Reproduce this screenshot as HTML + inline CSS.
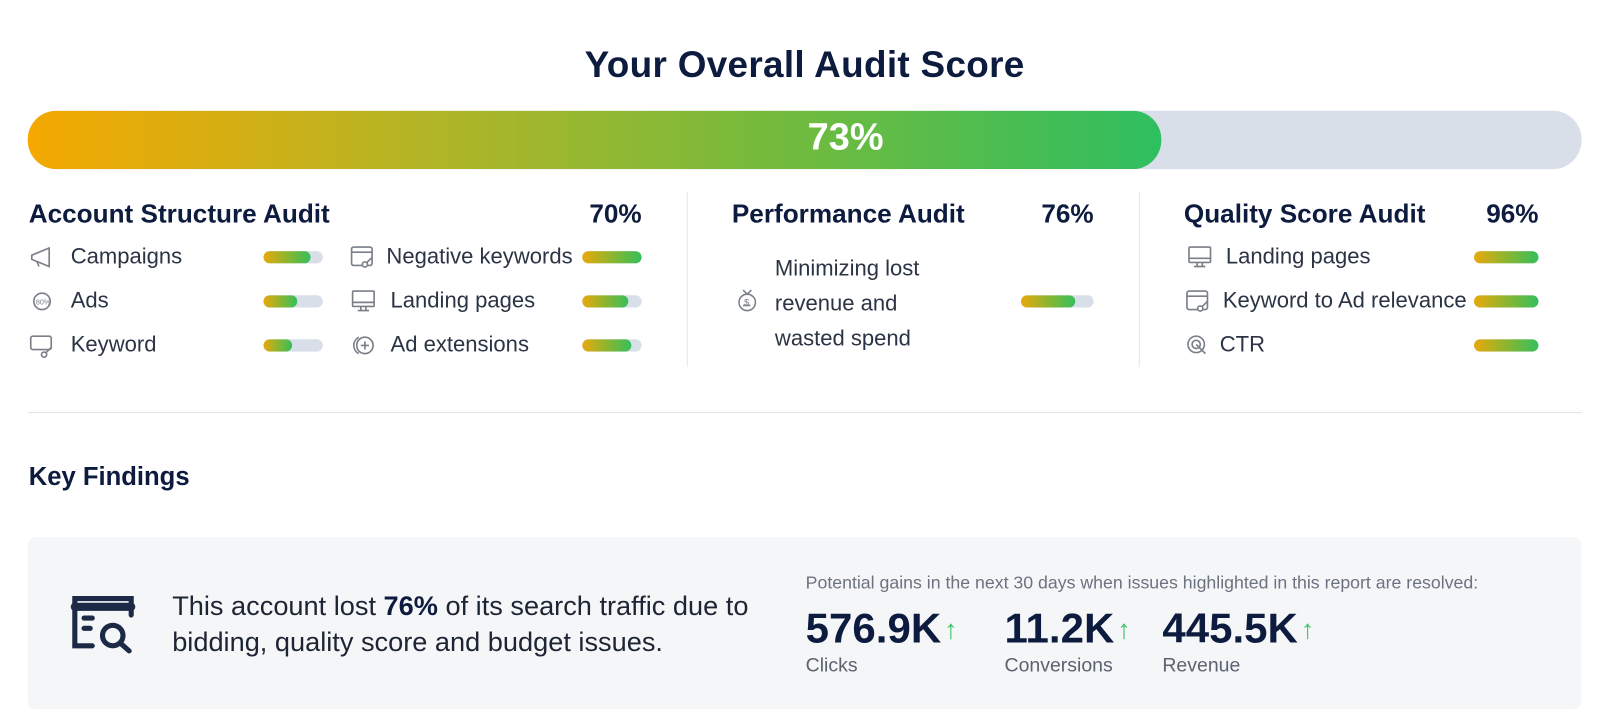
<!DOCTYPE html>
<html><head><meta charset="utf-8"><style>
*{margin:0;padding:0;box-sizing:border-box}
html,body{width:1604px;height:723px;overflow:hidden;background:#fff}
#w{position:absolute;left:0;top:0;width:1565px;height:706px;transform:scale(1.025);transform-origin:0 0;font-family:"Liberation Sans",sans-serif;color:#0d1b3e}
.a{position:absolute;white-space:nowrap}
.h{font-size:25.5px;font-weight:bold;color:#0d1b3e}
.r{text-align:right}
.it{font-size:21.5px;color:#2b3444}
.bar{position:absolute;height:12px;border-radius:6px;background:#d9dfe8;overflow:hidden}
.bar i{display:block;height:100%;border-radius:6px;background:linear-gradient(90deg,#e9a90c,#8cb52f,#35bf5c)}
.ic{position:absolute;color:#7a7f88}
.up{color:#3cc46a;font-size:26px;font-weight:bold;vertical-align:4px;margin-left:3px}
</style></head><body><div id="w">
<div class="a" style="left:0;width:1570px;text-align:center;top:42px;font-size:36px;font-weight:bold;letter-spacing:0.3px">Your Overall Audit Score</div>
<div class="a" style="left:27px;top:108px;width:1516px;height:57px;border-radius:28px;background:#d9dfe8;overflow:hidden">
<div style="width:1106px;height:57px;border-radius:28px;background:linear-gradient(90deg,#f5a800,#b3b526 35%,#6cbb40 70%,#2fbf60)"></div></div>
<div class="a" style="left:0;width:1650px;text-align:center;top:113px;font-size:37px;font-weight:bold;color:#fff">73%</div>

<div class="a h" style="left:28px;top:195px">Account Structure Audit</div>
<div class="a h r" style="left:526px;width:100px;top:195px">70%</div>
<div class="a h" style="left:714px;top:195px">Performance Audit</div>
<div class="a h r" style="left:967px;width:100px;top:195px">76%</div>
<div class="a h" style="left:1155px;top:195px">Quality Score Audit</div>
<div class="a h r" style="left:1401px;width:100px;top:195px">96%</div>

<svg class="ic" style="left:28px;top:240px" width="24" height="22" viewBox="0 0 24 22" fill="none" stroke="#7a7f88" stroke-width="1.6"><path d="M20 2 L3 9 L3 13 L20 20 Z M8 15 L10 20"/></svg>
<div class="a it" style="left:69px;top:238px">Campaigns</div>
<div class="bar" style="left:257px;top:245px;width:58px"><i style="width:46px"></i></div>
<svg class="ic" style="left:28px;top:283px" width="26" height="22" viewBox="0 0 26 22" fill="none" stroke="#7a7f88" stroke-width="1.6"><circle cx="13" cy="11" r="8"/><text x="7" y="14" font-size="7" fill="#7a7f88" stroke="none">80%</text></svg>
<div class="a it" style="left:69px;top:281px">Ads</div>
<div class="bar" style="left:257px;top:288px;width:58px"><i style="width:33px"></i></div>
<svg class="ic" style="left:28px;top:326px" width="26" height="24" viewBox="0 0 26 24" fill="none" stroke="#7a7f88" stroke-width="1.6"><rect x="2" y="2" width="20" height="13" rx="2"/><circle cx="15" cy="20" r="2.5"/><path d="M17 18 L22 13"/></svg>
<div class="a it" style="left:69px;top:324px">Keyword</div>
<div class="bar" style="left:257px;top:331px;width:58px"><i style="width:28px"></i></div>

<svg class="ic" style="left:341px;top:239px" width="26" height="24" viewBox="0 0 26 24" fill="none" stroke="#7a7f88" stroke-width="1.6"><rect x="2" y="2" width="20" height="18" rx="2"/><path d="M2 7 H22"/><circle cx="15" cy="19" r="2.5" fill="#fff"/><path d="M17 17 L22 12"/></svg>
<div class="a it" style="left:377px;top:238px">Negative keywords</div>
<div class="bar" style="left:568px;top:245px;width:58px"><i style="width:58px"></i></div>
<svg class="ic" style="left:342px;top:282px" width="26" height="24" viewBox="0 0 26 24" fill="none" stroke="#7a7f88" stroke-width="1.6"><rect x="2" y="2" width="21" height="15" rx="1"/><path d="M2 13 H23 M10 17 V21 M15 17 V21 M7 21 H18"/></svg>
<div class="a it" style="left:381px;top:281px">Landing pages</div>
<div class="bar" style="left:568px;top:288px;width:58px"><i style="width:45px"></i></div>
<svg class="ic" style="left:342px;top:325px" width="26" height="24" viewBox="0 0 26 24" fill="none" stroke="#7a7f88" stroke-width="1.6"><circle cx="14" cy="12" r="8"/><path d="M8 4 A9 9 0 0 0 8 20 M14 8 V16 M10 12 H18"/></svg>
<div class="a it" style="left:381px;top:324px">Ad extensions</div>
<div class="bar" style="left:568px;top:331px;width:58px"><i style="width:48px"></i></div>

<div class="a" style="left:670px;top:187px;width:1px;height:171px;background:#e3e7ec"></div>
<div class="a" style="left:1111px;top:187px;width:1px;height:171px;background:#e3e7ec"></div>

<svg class="ic" style="left:716px;top:280px" width="26" height="26" viewBox="0 0 26 26" fill="none" stroke="#7a7f88" stroke-width="1.5"><circle cx="13" cy="15" r="8"/><path d="M9 3 L13 7 L17 3 M9 18 H16"/><text x="10" y="18" font-size="9" fill="#7a7f88" stroke="none">$</text></svg>
<div class="a it" style="left:756px;top:245px;line-height:34px">Minimizing lost<br>revenue and<br>wasted spend</div>
<div class="bar" style="left:996px;top:288px;width:71px"><i style="width:53px"></i></div>

<svg class="ic" style="left:1158px;top:239px" width="26" height="24" viewBox="0 0 26 24" fill="none" stroke="#7a7f88" stroke-width="1.6"><rect x="2" y="2" width="21" height="15" rx="1"/><path d="M2 13 H23 M10 17 V21 M15 17 V21 M7 21 H18"/></svg>
<div class="a it" style="left:1196px;top:238px">Landing pages</div>
<div class="bar" style="left:1438px;top:245px;width:63px"><i style="width:63px"></i></div>
<svg class="ic" style="left:1156px;top:282px" width="26" height="24" viewBox="0 0 26 24" fill="none" stroke="#7a7f88" stroke-width="1.6"><rect x="2" y="2" width="20" height="18" rx="2"/><path d="M2 7 H22"/><circle cx="15" cy="19" r="2.5" fill="#fff"/><path d="M17 17 L22 12"/></svg>
<div class="a it" style="left:1193px;top:281px">Keyword to Ad relevance</div>
<div class="bar" style="left:1438px;top:288px;width:63px"><i style="width:63px"></i></div>
<svg class="ic" style="left:1156px;top:325px" width="26" height="24" viewBox="0 0 26 24" fill="none" stroke="#7a7f88" stroke-width="1.6"><circle cx="11" cy="11" r="8"/><circle cx="11" cy="11" r="4"/><path d="M11 11 L20 20"/></svg>
<div class="a it" style="left:1190px;top:324px">CTR</div>
<div class="bar" style="left:1438px;top:331px;width:63px"><i style="width:63px"></i></div>

<div class="a" style="left:27px;top:402px;width:1516px;height:1px;background:#dfe4ea"></div>
<div class="a" style="left:28px;top:451px;font-size:25px;font-weight:bold">Key Findings</div>

<div class="a" style="left:27px;top:524px;width:1516px;height:168px;border-radius:8px;background:#f5f6f8"></div>
<svg class="a" style="left:68px;top:578px" width="66" height="60" viewBox="0 0 66 60" fill="none" stroke="#1d2a45" stroke-width="5" stroke-linecap="round"><path d="M22 52 H5 V6 H60 V22"/><path d="M5 14 H60" stroke-width="8"/><path d="M14 25 H22 M14 35 H20"/><circle cx="42" cy="42" r="10"/><path d="M50 50 L58 57"/></svg>
<div class="a" style="left:168px;top:574px;font-size:26.5px;line-height:35px;color:#1d2433">This account lost <b style="color:#0d1b3e">76%</b> of its search traffic due to<br>bidding, quality score and budget issues.</div>

<div class="a" style="left:786px;top:558px;font-size:17.3px;color:#6b7280">Potential gains in the next 30 days when issues highlighted in this report are resolved:</div>
<div class="a" style="left:786px;top:590px;font-size:41px;font-weight:bold">576.9K<span class="up">↑</span></div>
<div class="a" style="left:980px;top:590px;font-size:41px;font-weight:bold">11.2K<span class="up">↑</span></div>
<div class="a" style="left:1134px;top:590px;font-size:41px;font-weight:bold">445.5K<span class="up">↑</span></div>
<div class="a" style="left:786px;top:639px;font-size:19px;color:#5b6270">Clicks</div>
<div class="a" style="left:980px;top:639px;font-size:19px;color:#5b6270">Conversions</div>
<div class="a" style="left:1134px;top:639px;font-size:19px;color:#5b6270">Revenue</div>
</div></body></html>
